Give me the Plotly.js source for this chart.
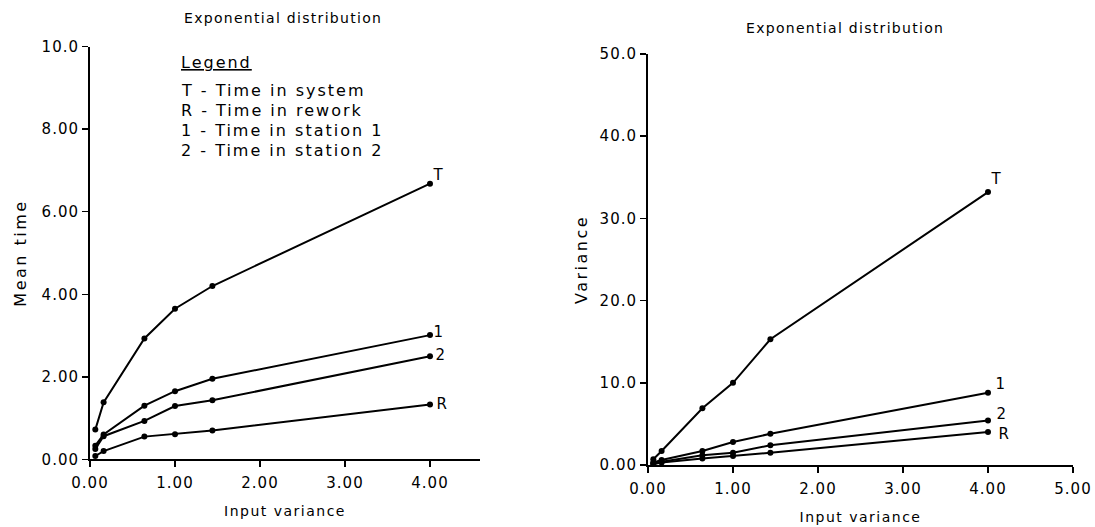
<!DOCTYPE html>
<html>
<head>
<meta charset="utf-8">
<script src="https://cdn.plot.ly/plotly-3.0.1.min.js"></script>
<style>
  html, body { margin: 0; padding: 0; background: #fff; }
  #chart { width: 1095px; height: 527px; }
  #chart svg text { letter-spacing: 1px; }
</style>
</head>
<body>
<div id="chart"></div>
<script>
// Input variance values (x) shared by both panels
const inputVariance = [0.0625, 0.16, 0.64, 1.0, 1.44, 4.0];

// Left panel: mean times
const meanSystem   = [0.72, 1.38, 2.93, 3.65, 4.20, 6.68];  // T
const meanStation1 = [0.33, 0.60, 1.30, 1.65, 1.95, 3.01];  // 1
const meanStation2 = [0.25, 0.56, 0.93, 1.29, 1.43, 2.50];  // 2
const meanRework   = [0.08, 0.20, 0.55, 0.61, 0.70, 1.33];  // R

// Right panel: variances
const varSystem   = [0.7, 1.7, 6.9, 10.0, 15.3, 33.2];  // T
const varStation1 = [0.3, 0.6, 1.7, 2.8, 3.8, 8.8];     // 1
const varStation2 = [0.2, 0.4, 1.2, 1.5, 2.4, 5.4];     // 2
const varRework   = [0.1, 0.3, 0.8, 1.1, 1.5, 4.0];     // R

// Tick labels
const leftXTicks  = [0, 1, 2, 3, 4];
const leftXText   = ["0.00", "1.00", "2.00", "3.00", "4.00"];
const leftYTicks  = [0, 2, 4, 6, 8, 10];
const leftYText   = ["0.00", "2.00", "4.00", "6.00", "8.00", "10.0"];
const rightXTicks = [0, 1, 2, 3, 4, 5];
const rightXText  = ["0.00", "1.00", "2.00", "3.00", "4.00", "5.00"];
const rightYTicks = [0, 10, 20, 30, 40, 50];
const rightYText  = ["0.00", "10.0", "20.0", "30.0", "40.0", "50.0"];

const seriesLabels = ["T", "1", "2", "R"];
const legendTitle = "Legend";
const legendLines = [
  "T - Time in system",
  "R - Time in rework",
  "1 - Time in station 1",
  "2 - Time in station 2"
];
const panelTitle = "Exponential distribution";
const xTitle = "Input variance";
const leftYTitle = "Mean time";
const rightYTitle = "Variance";

const FONT = "DejaVu Sans, Liberation Sans, sans-serif";
const lineStyle = {color: "#000", width: 2};
const markerStyle = {color: "#000", size: 6, symbol: "circle"};

function spaced(t, px) {
  return '<span style="letter-spacing:' + px + 'px">' + t + '</span>';
}

function tr(y, xa, ya, name) {
  return {x: inputVariance, y: y, xaxis: xa, yaxis: ya, name: name,
          type: "scatter", mode: "lines+markers",
          line: lineStyle, marker: markerStyle, showlegend: false, hoverinfo: "skip"};
}

const leftSeries  = [meanSystem, meanStation1, meanStation2, meanRework];
const rightSeries = [varSystem, varStation1, varStation2, varRework];

const data = [];
leftSeries.forEach((s, i) => data.push(tr(s, "x", "y", seriesLabels[i])));
rightSeries.forEach((s, i) => data.push(tr(s, "x2", "y2", seriesLabels[i])));

const axisCommon = {
  showline: true, linecolor: "#000", linewidth: 2,
  ticks: "outside", ticklen: 6, tickwidth: 1.5, tickcolor: "#000",
  showgrid: false, zeroline: false,
  tickfont: {family: FONT, size: 15, color: "#000"},
  fixedrange: true
};

const annotations = [];
// Panel titles
annotations.push({text: spaced(panelTitle, 1.3), xref: "paper", yref: "paper",
  x: 283/1095, y: 1 - 18/527, xanchor: "center", yanchor: "middle", showarrow: false,
  font: {family: FONT, size: 14, color: "#000"}});
annotations.push({text: spaced(panelTitle, 1.3), xref: "paper", yref: "paper",
  x: 845/1095, y: 1 - 28/527, xanchor: "center", yanchor: "middle", showarrow: false,
  font: {family: FONT, size: 14, color: "#000"}});

// Legend block
annotations.push({text: "<u>" + spaced(legendTitle, 2) + "</u>", xref: "paper", yref: "paper",
  x: 179/1095, y: 1 - 63/527, xanchor: "left", yanchor: "middle", showarrow: false,
  font: {family: FONT, size: 16, color: "#000"}});
legendLines.forEach((t, i) => {
  annotations.push({text: spaced(t, 2), xref: "paper", yref: "paper",
    x: 179/1095, y: 1 - (90 + i * 20)/527, xanchor: "left", yanchor: "middle", showarrow: false,
    font: {family: FONT, size: 16, color: "#000"}});
});

// End-of-line series labels
const leftShifts  = [[1, 9], [2, 3], [4, 1], [5, 0]];
const rightShifts = [[1, 13], [6, 9], [7, 7], [9, -2]];
leftSeries.forEach((s, i) => {
  annotations.push({text: seriesLabels[i], xref: "x", yref: "y",
    x: inputVariance[inputVariance.length - 1], y: s[s.length - 1],
    xshift: leftShifts[i][0], yshift: leftShifts[i][1],
    xanchor: "left", yanchor: "middle", showarrow: false,
    font: {family: FONT, size: 15, color: "#000"}});
});
rightSeries.forEach((s, i) => {
  annotations.push({text: seriesLabels[i], xref: "x2", yref: "y2",
    x: inputVariance[inputVariance.length - 1], y: s[s.length - 1],
    xshift: rightShifts[i][0], yshift: rightShifts[i][1],
    xanchor: "left", yanchor: "middle", showarrow: false,
    font: {family: FONT, size: 15, color: "#000"}});
});

const layout = {
  width: 1095, height: 527,
  margin: {l: 0, r: 0, t: 0, b: 0},
  paper_bgcolor: "#fff", plot_bgcolor: "#fff",
  showlegend: false,
  xaxis: Object.assign({}, axisCommon, {
    domain: [90/1095, 480/1095], range: [0, 390/85],
    tickvals: leftXTicks, ticktext: leftXText, anchor: "y",
    ticklabelstandoff: 3,
    title: {text: spaced(xTitle, 1.5), standoff: 15, font: {family: FONT, size: 14, color: "#000"}}
  }),
  yaxis: Object.assign({}, axisCommon, {
    domain: [67.7/527, 480.3/527], range: [0, 10],
    tickvals: leftYTicks, ticktext: leftYText, anchor: "x",
    title: {text: spaced(leftYTitle, 2.5), standoff: 15, font: {family: FONT, size: 16, color: "#000"}}
  }),
  xaxis2: Object.assign({}, axisCommon, {
    domain: [648/1095, 1073/1095], range: [0, 5],
    tickvals: rightXTicks, ticktext: rightXText, anchor: "y2",
    ticklabelstandoff: 3,
    title: {text: spaced(xTitle, 1.5), standoff: 15, font: {family: FONT, size: 14, color: "#000"}}
  }),
  yaxis2: Object.assign({}, axisCommon, {
    domain: [62/527, 473/527], range: [0, 50],
    tickvals: rightYTicks, ticktext: rightYText, anchor: "x2",
    title: {text: spaced(rightYTitle, 2.5), standoff: 12, font: {family: FONT, size: 16, color: "#000"}}
  }),
  annotations: annotations
};

Plotly.newPlot("chart", data, layout, {staticPlot: true, displayModeBar: false});
</script>
</body>
</html>
